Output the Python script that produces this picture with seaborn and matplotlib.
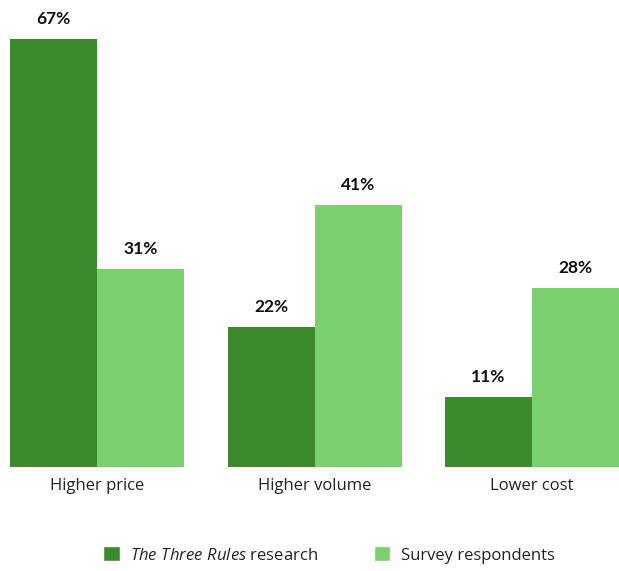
import matplotlib
matplotlib.use("Agg")
import matplotlib.pyplot as plt
import seaborn as sns
import pandas as pd
from matplotlib.patches import Patch
from matplotlib.font_manager import FontProperties

categories = ["Higher price", "Higher volume", "Lower cost"]
series_names = ["The Three Rules research", "Survey respondents"]
three_rules = [67, 22, 11]
survey = [31, 41, 28]
colors = ["#3c8a2e", "#7acf6e"]

df = pd.DataFrame({
    "category": categories * 2,
    "series": [series_names[0]] * 3 + [series_names[1]] * 3,
    "value": three_rules + survey,
})

sns.set_theme(style="white")
plt.rcParams["font.family"] = ["Open Sans", "DejaVu Sans"]
plt.rcParams["mathtext.fontset"] = "custom"
plt.rcParams["mathtext.it"] = "Open Sans:italic"
plt.rcParams["mathtext.rm"] = "Open Sans"

fig = plt.figure(figsize=(6.19, 5.71), dpi=100)
ax = fig.add_axes([10 / 619, 104 / 571, 609 / 619, 447 / 571])

sns.barplot(data=df, x="category", y="value", hue="series", palette=colors,
            width=0.8, saturation=1, dodge=True, ax=ax, legend=False,
            linewidth=0, edgecolor="none")

ax.set_xlim(-0.4, 2.4)
ax.set_ylim(0, 70)
label_fp = FontProperties(family="Lato", weight="bold", size=12.5)
for c in ax.containers:
    ax.bar_label(c, fmt="%d%%", padding=8.5, fontproperties=label_fp, color="#111111")

ax.set_xlabel("")
ax.set_ylabel("")
ax.set_yticks([])
ax.tick_params(axis="x", length=0, pad=8, labelsize=12, labelcolor="#222222")
for s in ax.spines.values():
    s.set_visible(False)

handles = [Patch(facecolor=colors[0]), Patch(facecolor=colors[1])]
labels = [r"$\mathit{The\ Three\ Rules}$ research", series_names[1]]
fig.legend(handles, labels, loc="center", bbox_to_anchor=(329 / 619, 1 - 555 / 571),
           ncol=2, frameon=False, fontsize=12, handlelength=1.0, handleheight=1.0,
           handletextpad=0.65, columnspacing=3.3, labelcolor="#222222")

fig.savefig("out.png", dpi=100)
